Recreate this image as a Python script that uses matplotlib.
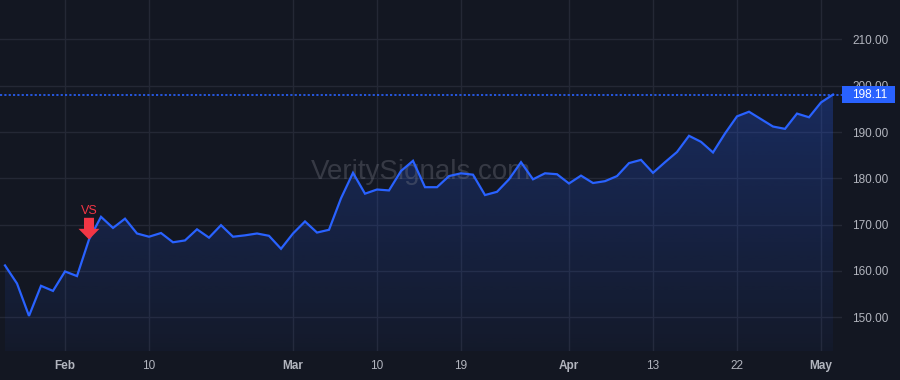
import numpy as np
import matplotlib
matplotlib.use("Agg")
import matplotlib.pyplot as plt
import matplotlib.transforms as mtransforms
from matplotlib.patches import Polygon, Rectangle

# ---- data ----
values = [161.2, 157.3, 150.3, 156.8, 155.7, 159.9, 158.9, 166.8, 171.7, 169.3,
          171.3, 168.1, 167.4, 168.2, 166.2, 166.6, 169.0, 167.2, 169.9, 167.4,
          167.7, 168.1, 167.6, 164.8, 168.1, 170.7, 168.3, 168.9, 175.7, 181.2,
          176.7, 177.6, 177.4, 181.6, 183.8, 178.1, 178.1, 180.5, 181.1, 180.8,
          176.4, 177.1, 179.8, 183.5, 179.8, 181.1, 180.9, 178.9, 180.6, 179.0,
          179.4, 180.5, 183.3, 184.0, 181.2, 183.5, 185.7, 189.2, 187.9, 185.6,
          189.7, 193.4, 194.4, 192.8, 191.2, 190.7, 194.0, 193.2, 196.4, 198.11]
xtick_pos = [5, 12, 24, 31, 38, 47, 54, 61, 68]
xtick_labels = ['Feb', '10', 'Mar', '10', '19', 'Apr', '13', '22', 'May']
ytick_vals = [150, 160, 170, 180, 190, 200, 210]
signal_index = 7
signal_label = 'VS'
last_price = values[-1]
watermark = 'VeritySignals.com'

BG = '#131722'
BLUE = '#2962ff'
RED = '#f23645'
GRID = '#242835'
TXT = '#b2b5be'

plt.rcParams['font.family'] = ['Liberation Sans', 'DejaVu Sans']

fig = plt.figure(figsize=(9, 3.8), dpi=100, facecolor=BG)
ax = fig.add_axes([0, 29 / 380, 842 / 900, 351 / 380])
ax.set_facecolor(BG)

x = np.arange(len(values))
y = np.array(values)

xmin, xmax = -5 / 12, 837 / 12
ymin, ymax = 142.72, 218.53
ax.set_xlim(xmin, xmax)
ax.set_ylim(ymin, ymax)

# grid
for v in ytick_vals:
    ax.axhline(v, color=GRID, lw=1, zorder=0.5)
for p in xtick_pos:
    ax.axvline(p, color=GRID, lw=1, zorder=0.5)

# gradient fill
poly = ax.fill_between(x, y, ymin, facecolor='none', edgecolor='none')
ncol = 256
alphas = np.linspace(0.27, 0.04, ncol)
grad = np.zeros((ncol, 1, 4))
grad[:, 0, 0] = 41 / 255
grad[:, 0, 1] = 98 / 255
grad[:, 0, 2] = 255 / 255
grad[:, 0, 3] = alphas
im = ax.imshow(grad, extent=[x[0], x[-1], ymin, y.max()], aspect='auto',
               origin='upper', zorder=1, interpolation='bilinear')
path = poly.get_paths()[0]
im.set_clip_path(path, transform=ax.transData)

# line
ax.plot(x, y, color=BLUE, lw=1.6, zorder=3, solid_joinstyle='miter')

# last price dotted line
ax.axhline(last_price, color=BLUE, lw=1.2, ls=(0, (1.3, 1.3)), zorder=2.8)

# watermark
ax.text(0.5, 0.51, watermark, transform=ax.transAxes, ha='center', va='center',
        fontsize=20, color='#787b86', alpha=0.35, zorder=2)

# ticks
ax.set_xticks(xtick_pos)
ax.set_xticklabels(xtick_labels)
ax.set_yticks(ytick_vals)
ax.set_yticklabels([f'{v:.2f}' for v in ytick_vals])
ax.yaxis.tick_right()
ax.tick_params(axis='both', length=0, colors=TXT, labelsize=8.5)
ax.tick_params(axis='y', pad=7.5)
ax.tick_params(axis='x', pad=6.5)
for lbl in ax.get_xticklabels():
    if lbl.get_text().isalpha():
        lbl.set_fontweight('bold')
for s in ax.spines.values():
    s.set_visible(False)

# last price label box
ytrans = mtransforms.blended_transform_factory(ax.transAxes, ax.transData)
h_data = (ymax - ymin) * 17 / 351
ax.add_patch(Rectangle((1.0, last_price - h_data / 2), 53 / 842, h_data,
                       transform=ytrans, facecolor=BLUE, edgecolor='none',
                       clip_on=False, zorder=6))
ax.text(1.0 + 10 / 842, last_price, f'{last_price:.2f}', transform=ytrans,
        ha='left', va='center', color='white', fontsize=8.5, zorder=7,
        clip_on=False)

# signal arrow (pixel offsets around the data point)
sx, sy = signal_index, values[signal_index]
arrow_px = [(0, 0), (-10.5, 10.7), (-5, 10.7), (-5, 21.7), (5, 21.7),
            (5, 10.7), (10.5, 10.7)]
tr = mtransforms.Affine2D() + mtransforms.ScaledTranslation(sx, sy, ax.transData)
ax.add_patch(Polygon(arrow_px, closed=True, transform=tr, facecolor=RED,
                     edgecolor='none', zorder=5))
ax.annotate(signal_label, xy=(sx, sy), xytext=(0, 29), textcoords='offset pixels',
            ha='center', va='center', color=RED, fontsize=9, zorder=5)

fig.savefig('out.png', dpi=100, facecolor=BG)
